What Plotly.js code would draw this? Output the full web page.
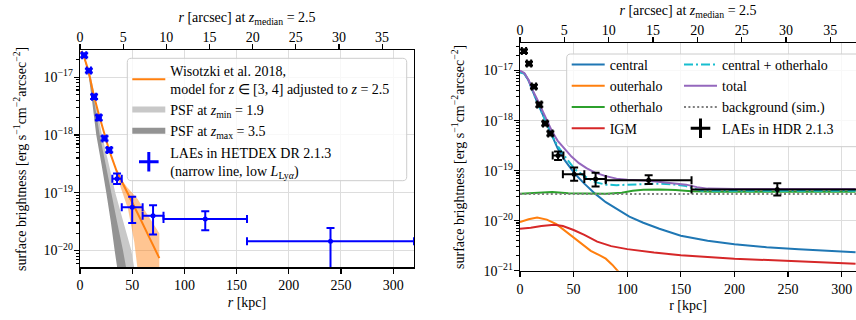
<!DOCTYPE html>
<html>
<head>
<meta charset="utf-8">
<script src="https://cdn.plot.ly/plotly-3.0.1.min.js"></script>
<style>
  html, body { margin: 0; padding: 0; background: #fff; }
  #chart { width: 856px; height: 320px; }
</style>
</head>
<body>
<div id="chart"></div>
<script>
// ---------------- left panel: narrow-line, low-L LAE stack ----------------
const lowR    = [4, 8.5, 13.5, 18, 23.5, 28, 35.5, 50, 70, 120, 240];
const lowRlo  = [2, 6.5, 11.5, 16, 21.5, 26, 31, 40, 60, 80, 160];
const lowRhi  = [6, 10.5, 15.5, 20, 25.5, 30, 40, 60, 80, 160, 320];
const lowSB   = [2.4e-17, 1.3e-17, 4.6e-18, 2.0e-18, 8.7e-19, 5.5e-19, 1.75e-19, 5.6e-20, 4.0e-20, 3.5e-20, 1.45e-20];
const lowSBhi = [2.6e-17, 1.4e-17, 5.0e-18, 2.2e-18, 9.5e-19, 6.0e-19, 2.15e-19, 8.5e-20, 6.1e-20, 4.8e-20, 2.45e-20];
const lowSBlo = [2.2e-17, 1.2e-17, 4.2e-18, 1.8e-18, 8.0e-19, 5.0e-19, 1.42e-19, 3.0e-20, 1.9e-20, 2.25e-20, 3.0e-21];

// Wisotzki et al. 2018 model, rescaled to z = 2.5
const wisR  = [1, 4, 8, 13, 18, 23, 28, 35, 42, 50, 58, 66, 76];
const wisSB = [2.82e-17, 2.19e-17, 1.32e-17, 5.0e-18, 2.29e-18, 1.07e-18, 5.4e-19, 2.4e-19, 1.35e-19, 6.9e-20, 3.47e-20, 1.74e-20, 7.4e-21];
// model uncertainty envelope
const wisBandUpR  = [36, 45, 55, 65, 76, 76];
const wisBandUpSB = [2.09e-19, 1.26e-19, 7.9e-20, 4.07e-20, 2.0e-20, 3e-22];
const wisBandLoR  = [36, 46, 52, 55, 58, 62, 76];
const wisBandLoSB = [1.78e-19, 5.25e-20, 1.41e-20, 5.0e-21, 1.6e-21, 3e-22, 3e-22];

// PSF profiles: radius reached at each brightness level
const psfSB      = [4e-17, 1e-17, 4e-18, 1e-18, 3.16e-19, 1e-19, 3.16e-20, 1e-20, 3e-21];
const psfLoIn    = [0, 9, 12.5, 17, 22.5, 27.5, 32.5, 37, 42];
const psfLoOut   = [0, 10.5, 15, 21, 27.5, 33.8, 41.5, 49.2, 54];
const psfHiIn    = [0, 8.5, 11.5, 15.6, 20.5, 25.2, 29.5, 33.2, 37.5];
const psfHiOut   = [0, 9.5, 13.5, 18.9, 24.5, 30, 35.5, 41.2, 46.5];

// ---------------- right panel: HDR 2.1.3 stack vs. simulation ----------------
const hdrR    = [3.7, 8.4, 13, 18, 23.5, 28.3, 35.5, 50.5, 70.5, 120, 240];
const hdrRlo  = [1.7, 6.4, 11, 16, 21.5, 26.3, 30.5, 40, 60, 80, 160];
const hdrRhi  = [5.7, 10.4, 15, 20, 25.5, 30.3, 40.5, 60, 80, 160, 320];
const hdrSB   = [2.45e-17, 1.38e-17, 4.8e-18, 2.1e-18, 8.8e-19, 5.55e-19, 2.0e-19, 8.5e-20, 6.8e-20, 6.45e-20, 4.2e-20];
const hdrSBhi = [2.65e-17, 1.5e-17, 5.2e-18, 2.3e-18, 9.6e-19, 6.05e-19, 2.4e-19, 1.15e-19, 9.1e-20, 8.1e-20, 5.6e-20];
const hdrSBlo = [2.25e-17, 1.26e-17, 4.4e-18, 1.9e-18, 8.0e-19, 5.05e-19, 1.64e-19, 6.3e-20, 4.8e-20, 5.4e-20, 3.2e-20];

const centralR  = [0, 4, 8, 12, 16, 20, 25, 30, 35, 42, 51, 60, 70, 80, 90, 102, 115, 130, 150, 175, 200, 230, 260, 290, 313];
const centralSB = [9.33e-18, 8.71e-18, 6.31e-18, 3.72e-18, 2.34e-18, 1.51e-18, 8.51e-19, 4.68e-19, 2.82e-19, 1.58e-19, 8.7e-20, 5.5e-20, 3.47e-20, 2.34e-20, 1.70e-20, 1.20e-20, 9.1e-21, 6.9e-21, 5.0e-21, 3.98e-21, 3.39e-21, 2.95e-21, 2.69e-21, 2.51e-21, 2.34e-21];

const outerR  = [0, 8, 16, 25, 34, 42, 50, 58, 66, 74, 80, 86, 91, 95];
const outerSB = [9.33e-21, 1.07e-20, 1.15e-20, 1.05e-20, 8.5e-21, 6.3e-21, 4.7e-21, 3.4e-21, 2.5e-21, 2.04e-21, 1.74e-21, 1.32e-21, 1.0e-21, 8e-22];

const otherR  = [0, 15, 30, 45, 60, 80, 95, 105, 115, 130, 145, 160, 180, 220, 260, 313];
const otherSB = [3.47e-20, 3.55e-20, 3.72e-20, 3.55e-20, 3.47e-20, 3.47e-20, 3.63e-20, 3.98e-20, 4.17e-20, 4.22e-20, 4.12e-20, 3.89e-20, 3.80e-20, 3.80e-20, 3.85e-20, 3.80e-20];

const igmR  = [0, 10, 20, 32, 40, 50, 60, 72, 85, 100, 125, 150, 200, 250, 313];
const igmSB = [6.9e-21, 7.2e-21, 7.8e-21, 8.3e-21, 7.8e-21, 6.5e-21, 5.2e-21, 3.8e-21, 3.1e-21, 2.7e-21, 2.3e-21, 2.04e-21, 1.74e-21, 1.58e-21, 1.38e-21];

const cPlusOR  = [0, 4, 8, 12, 16, 20, 25, 30, 35, 42, 51, 60, 70, 80, 90, 100, 115, 130, 146, 155, 162, 170, 200, 250, 313];
const cPlusOSB = [9.33e-18, 8.71e-18, 6.31e-18, 3.72e-18, 2.34e-18, 1.51e-18, 8.7e-19, 5.0e-19, 3.16e-19, 1.91e-19, 1.07e-19, 7.76e-20, 5.89e-20, 5.25e-20, 5.13e-20, 5.25e-20, 5.5e-20, 5.5e-20, 5.25e-20, 4.9e-20, 4.37e-20, 3.98e-20, 3.98e-20, 3.98e-20, 3.98e-20];

const totalR  = [0, 4, 8, 12, 16, 20, 25, 30, 35, 40, 48, 55, 62, 70, 80, 90, 100, 120, 140, 155, 165, 175, 200, 250, 313];
const totalSB = [1.0e-17, 8.91e-18, 6.46e-18, 3.98e-18, 2.69e-18, 1.78e-18, 1.05e-18, 6.03e-19, 3.98e-19, 2.95e-19, 1.91e-19, 1.41e-19, 1.12e-19, 9.12e-20, 7.76e-20, 6.92e-20, 6.61e-20, 6.31e-20, 5.75e-20, 5.25e-20, 4.68e-20, 4.37e-20, 4.27e-20, 4.27e-20, 4.27e-20];

const bgR  = [0, 320];
const bgSB = [3.4e-20, 3.4e-20];

// angular scale at z = 2.5 for the top axes
const KPC_PER_ARCSEC = 8.27;

const leftTicks  = [1e-20, 1e-19, 1e-18, 1e-17];
const leftTickText  = ['10<sup>−20</sup>', '10<sup>−19</sup>', '10<sup>−18</sup>', '10<sup>−17</sup>'];
const rightTicks = [1e-21, 1e-20, 1e-19, 1e-18, 1e-17];
const rightTickText = ['10<sup>−21</sup>', '10<sup>−20</sup>', '10<sup>−19</sup>', '10<sup>−18</sup>', '10<sup>−17</sup>'];

// ---------------- helpers ----------------
const W = 856, H = 320;
const M = { l: 80, r: 0, t: 43, b: 49 };
const GW = W - M.l - M.r, GH = H - M.t - M.b;
const FONT = "'Liberation Serif', 'Times New Roman', serif";
// page pixel -> plot-area fraction
const px2x = v => (v - M.l) / GW;
const px2y = v => (H - M.b - v) / GH;

function minorLogTicks(lo, hi) {
  const t = [];
  for (let e = lo; e <= hi; e++) for (let m = 2; m <= 9; m++) t.push(m * Math.pow(10, e));
  return t;
}

function bandPolygon(rA, sbA, rB, sbB) {
  return { x: rA.concat(rB.slice().reverse()), y: sbA.concat(sbB.slice().reverse()) };
}

function roundedBox(x0, y0, x1, y1, r) {
  const X = v => px2x(v).toFixed(5), Y = v => px2y(v).toFixed(5);
  return `M${X(x0 + r)},${Y(y0)} L${X(x1 - r)},${Y(y0)} Q${X(x1)},${Y(y0)} ${X(x1)},${Y(y0 + r)} ` +
         `L${X(x1)},${Y(y1 - r)} Q${X(x1)},${Y(y1)} ${X(x1 - r)},${Y(y1)} ` +
         `L${X(x0 + r)},${Y(y1)} Q${X(x0)},${Y(y1)} ${X(x0)},${Y(y1 - r)} ` +
         `L${X(x0)},${Y(y0 + r)} Q${X(x0)},${Y(y0)} ${X(x0 + r)},${Y(y0)} Z`;
}

function errTrace(r, rlo, rhi, sb, sblo, sbhi, color, xa, ya) {
  return {
    x: r, y: sb, xaxis: xa, yaxis: ya, mode: 'markers', type: 'scatter',
    marker: { color: color, size: 5 },
    error_x: { type: 'data', symmetric: false,
      array: r.map((v, i) => rhi[i] - v), arrayminus: r.map((v, i) => v - rlo[i]),
      color: color, thickness: 2, width: 4 },
    error_y: { type: 'data', symmetric: false,
      array: sb.map((v, i) => sbhi[i] - v), arrayminus: sb.map((v, i) => v - sblo[i]),
      color: color, thickness: 2, width: 4 },
    showlegend: false, hoverinfo: 'skip'
  };
}

// ---------------- traces ----------------
const psfLoPoly = bandPolygon(psfLoIn, psfSB, psfLoOut, psfSB);
const psfHiPoly = bandPolygon(psfHiIn, psfSB, psfHiOut, psfSB);
const wisPoly = bandPolygon(wisBandUpR, wisBandUpSB, wisBandLoR, wisBandLoSB);

const traces = [
  // left panel
  { x: psfLoPoly.x, y: psfLoPoly.y, xaxis: 'x', yaxis: 'y', type: 'scatter', mode: 'none',
    fill: 'toself', fillcolor: '#c8c8c8', name: 'PSF at <i>z</i><sub>min</sub> = 1.9',
    legend: 'legend', legendrank: 2 },
  { x: psfHiPoly.x, y: psfHiPoly.y, xaxis: 'x', yaxis: 'y', type: 'scatter', mode: 'none',
    fill: 'toself', fillcolor: '#939393', name: 'PSF at <i>z</i><sub>max</sub> = 3.5',
    legend: 'legend', legendrank: 3 },
  { x: wisPoly.x, y: wisPoly.y, xaxis: 'x', yaxis: 'y', type: 'scatter', mode: 'none',
    fill: 'toself', fillcolor: 'rgba(255,127,14,0.45)', showlegend: false },
  { x: wisR, y: wisSB, xaxis: 'x', yaxis: 'y', type: 'scatter', mode: 'lines',
    line: { color: '#ff7f0e', width: 2 },
    name: 'Wisotzki et al. 2018,<br>model for <i>z</i> ∈ [3, 4] adjusted to <i>z</i> = 2.5',
    legend: 'legend', legendrank: 1 },
  errTrace(lowR, lowRlo, lowRhi, lowSB, lowSBlo, lowSBhi, '#0000ff', 'x', 'y'),
  { x: [null], y: [null], xaxis: 'x', yaxis: 'y', type: 'scatter', mode: 'markers',
    marker: { symbol: 'cross-thin', size: 14, color: '#0000ff', line: { color: '#0000ff', width: 3 } },
    name: 'LAEs in HETDEX DR 2.1.3<br>(narrow line, low <i>L</i><sub>Ly<i>α</i></sub>)',
    legend: 'legend4', legendrank: 4 },
  { x: [0, 1], y: [1e-30, 1e-30], xaxis: 'x2', yaxis: 'y', type: 'scatter', mode: 'lines',
    line: { width: 0 }, showlegend: false, hoverinfo: 'skip' },

  // right panel
  { x: centralR, y: centralSB, xaxis: 'x3', yaxis: 'y2', mode: 'lines', line: { color: '#1f77b4', width: 2 },
    name: 'central', legend: 'legend2', legendrank: 1 },
  { x: outerR, y: outerSB, xaxis: 'x3', yaxis: 'y2', mode: 'lines', line: { color: '#ff7f0e', width: 2 },
    name: 'outerhalo', legend: 'legend2', legendrank: 2 },
  { x: otherR, y: otherSB, xaxis: 'x3', yaxis: 'y2', mode: 'lines', line: { color: '#2ca02c', width: 2 },
    name: 'otherhalo', legend: 'legend2', legendrank: 3 },
  { x: igmR, y: igmSB, xaxis: 'x3', yaxis: 'y2', mode: 'lines', line: { color: '#d62728', width: 2 },
    name: 'IGM', legend: 'legend2', legendrank: 4 },
  { x: cPlusOR, y: cPlusOSB, xaxis: 'x3', yaxis: 'y2', mode: 'lines',
    line: { color: '#17becf', width: 2, dash: '9px,3px,2px,3px' },
    name: 'central + otherhalo', legend: 'legend3', legendrank: 1 },
  { x: totalR, y: totalSB, xaxis: 'x3', yaxis: 'y2', mode: 'lines', line: { color: '#9467bd', width: 2 },
    name: 'total', legend: 'legend3', legendrank: 2 },
  { x: bgR, y: bgSB, xaxis: 'x3', yaxis: 'y2', mode: 'lines',
    line: { color: '#7f7f7f', width: 2, dash: '2px,2.4px' },
    name: 'background (sim.)', legend: 'legend3', legendrank: 3 },
  errTrace(hdrR, hdrRlo, hdrRhi, hdrSB, hdrSBlo, hdrSBhi, '#000000', 'x3', 'y2'),
  { x: [null], y: [null], xaxis: 'x3', yaxis: 'y2', type: 'scatter', mode: 'markers',
    marker: { symbol: 'cross-thin', size: 14, color: '#000000', line: { color: '#000000', width: 3 } },
    name: 'LAEs in HDR 2.1.3', legend: 'legend3', legendrank: 4 },
  { x: [0, 1], y: [1e-30, 1e-30], xaxis: 'x4', yaxis: 'y2', type: 'scatter', mode: 'lines',
    line: { width: 0 }, showlegend: false, hoverinfo: 'skip' }
];

// ---------------- layout ----------------
const axisCommon = {
  showline: true, linecolor: '#000', linewidth: 1.3, ticks: 'outside', ticklen: 5,
  tickwidth: 1.2, tickcolor: '#000', zeroline: false, automargin: false,
  tickfont: { family: FONT, size: 14, color: '#000' }
};
const gridColor = '#dddddd';
const titleFont = { family: FONT, size: 14, color: '#000' };
const legendCommon = {
  bgcolor: 'rgba(0,0,0,0)', borderwidth: 0, font: { family: FONT, size: 14, color: '#000' },
  xanchor: 'left', yanchor: 'top', traceorder: 'normal', itemwidth: 33
};

const leftXmax = 320, rightXmax = 313.4;
const yTitle = 'surface brightness [erg s<sup>−1</sup>cm<sup>−2</sup>arcsec<sup>−2</sup>]';
const topTitle = '<i>r</i> [arcsec] at <i>z</i><sub>median</sub> = 2.5';

const layout = {
  width: W, height: H, margin: { l: M.l, r: M.r, t: M.t, b: M.b, pad: 0 },
  paper_bgcolor: '#fff', plot_bgcolor: '#fff', showlegend: true,
  font: { family: FONT, size: 14, color: '#000' },

  xaxis: Object.assign({}, axisCommon, {
    domain: [px2x(80), px2x(414)], range: [0, leftXmax], anchor: 'y',
    dtick: 50, tick0: 0, showgrid: true, gridcolor: gridColor,
    title: { text: '<i>r</i> [kpc]', font: titleFont, standoff: 4 }
  }),
  xaxis2: Object.assign({}, axisCommon, {
    overlaying: 'x', side: 'top', anchor: 'y', range: [0, leftXmax / KPC_PER_ARCSEC],
    dtick: 5, tick0: 0, showgrid: false, ticklabelstandoff: -4,
    title: { text: topTitle, font: titleFont, standoff: 4 }
  }),
  yaxis: Object.assign({}, axisCommon, {
    domain: [px2y(267.3), px2y(50)], anchor: 'x', type: 'log',
    range: [-20.29, -16.53], mirror: true, ticklabelstandoff: -2,
    tickmode: 'array', tickvals: leftTicks, ticktext: leftTickText,
    minor: { tickmode: 'array', tickvals: minorLogTicks(-21, -17), ticks: 'outside', ticklen: 3, tickcolor: '#000', showgrid: false },
    showgrid: true, gridcolor: gridColor
  }),

  xaxis3: Object.assign({}, axisCommon, {
    domain: [px2x(520), 1], range: [0, rightXmax], anchor: 'y2',
    dtick: 50, tick0: 0, showgrid: true, gridcolor: gridColor,
    title: { text: 'r [kpc]', font: titleFont, standoff: 4 }
  }),
  xaxis4: Object.assign({}, axisCommon, {
    overlaying: 'x3', side: 'top', anchor: 'y2', range: [0, rightXmax / KPC_PER_ARCSEC],
    dtick: 5, tick0: 0, showgrid: false, ticklabelstandoff: -4,
    title: { text: topTitle, font: titleFont, standoff: 4 }
  }),
  yaxis2: Object.assign({}, axisCommon, {
    domain: [px2y(270.7), px2y(42.7)], anchor: 'x3', type: 'log',
    range: [-21, -16.449], ticklabelstandoff: -2,
    tickmode: 'array', tickvals: rightTicks, ticktext: rightTickText,
    minor: { tickmode: 'array', tickvals: minorLogTicks(-22, -17), ticks: 'outside', ticklen: 3, tickcolor: '#000', showgrid: false },
    showgrid: true, gridcolor: gridColor,
    title: { text: yTitle, font: titleFont, standoff: 15 }
  }),

  // left-panel y title, placed in the page margin
  annotations: [
    { xref: 'paper', yref: 'paper', x: px2x(20), y: px2y(159), text: yTitle, textangle: -90,
      showarrow: false, xanchor: 'center', yanchor: 'middle', font: titleFont }
  ],

  legend:  Object.assign({}, legendCommon, { x: px2x(127.3), y: px2y(54.5) }),
  legend4: Object.assign({}, legendCommon, { x: px2x(127.3), y: px2y(137) }),
  legend2: Object.assign({}, legendCommon, { x: px2x(566.7), y: px2y(49) }),
  legend3: Object.assign({}, legendCommon, { x: px2x(679), y: px2y(49) }),

  shapes: [
    { type: 'path', xref: 'paper', yref: 'paper', layer: 'above',
      path: roundedBox(127.3, 58.3, 406.7, 180.7, 4),
      fillcolor: 'rgba(255,255,255,0.8)', line: { color: '#cccccc', width: 1 } },
    { type: 'path', xref: 'paper', yref: 'paper', layer: 'above',
      path: roundedBox(566.7, 54, 880, 146.7, 4),
      fillcolor: 'rgba(255,255,255,0.8)', line: { color: '#cccccc', width: 1 } }
  ]
};

Plotly.newPlot('chart', traces, layout, { staticPlot: true, displayModeBar: false });
</script>
</body>
</html>
